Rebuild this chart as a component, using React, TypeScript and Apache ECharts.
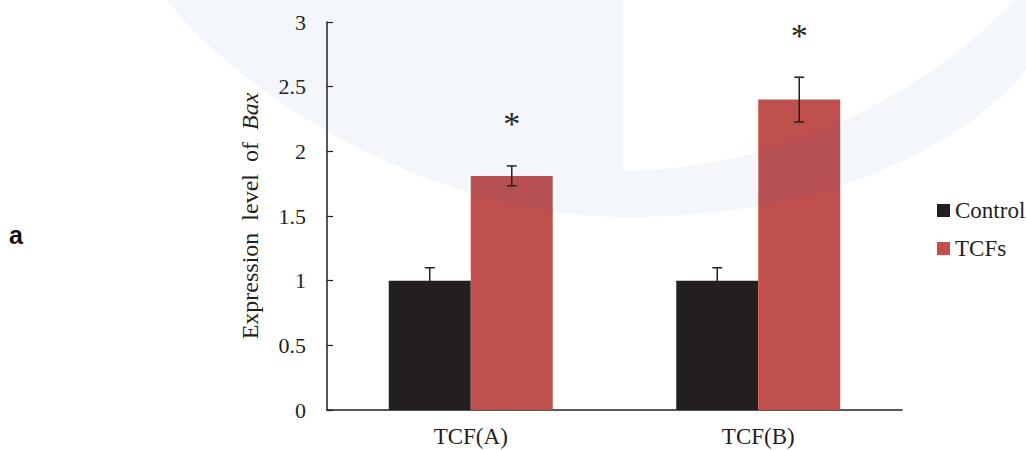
import React, { useEffect, useRef } from "react";
import * as echarts from "echarts";

const categories = ["TCF(A)", "TCF(B)"];
const seriesNames = ["Control", "TCFs"];
const controlValues = [1, 1];
const controlErrors = [0.1, 0.1];
const tcfValues = [1.81, 2.4];
const tcfErrors = [0.077, 0.173];
const sigLabels = ["*", "*"];
const yTicks = { min: 0, max: 3, interval: 0.5 };

const BAR_W = 82;
const DARK = "#231f20";
const RED = "#c0504d";
const FONT = "Liberation Serif";

const WATERMARK_D =
  "M 167 0 C 240 95 430 217 625 217 C 820 217 960 150 1026 70 L 1026 0 L 1015 0 C 900 120 740 172 623 170 L 623 0 Z";

let registered = false;
function ensureShape() {
  if (registered) return;
  echarts.graphic.registerShape("watermark", echarts.graphic.extendPath(WATERMARK_D, {}) as any);
  registered = true;
}

export default function App() {
  const ref = useRef<HTMLDivElement>(null);
  useEffect(() => {
    if (!ref.current) return;
    ensureShape();
    const chart = echarts.init(ref.current, undefined, { renderer: "svg" });

    const errData = (vals: number[], errs: number[]) =>
      vals.map((v, i) => [i, v + errs[i], v - errs[i]]);

    const errSeries = (vals: number[], errs: number[], offset: number) => ({
      type: "custom",
      z: 5,
      silent: true,
      data: errData(vals, errs),
      encode: { x: 0, y: [1, 2] },
      renderItem: (params: any, api: any) => {
        const i = api.value(0);
        const hi = api.coord([i, api.value(1)]);
        const lo = api.coord([i, api.value(2)]);
        const x = hi[0] + offset;
        const style = { stroke: DARK, lineWidth: 1.5 };
        return {
          type: "group",
          children: [
            { type: "line", shape: { x1: x, y1: hi[1], x2: x, y2: lo[1] }, style },
            { type: "line", shape: { x1: x - 5, y1: hi[1], x2: x + 5, y2: hi[1] }, style },
            { type: "line", shape: { x1: x - 5, y1: lo[1], x2: x + 5, y2: lo[1] }, style },
          ],
        };
      },
    });

    const sigData = tcfValues.map((v, i) => [i, v + tcfErrors[i]]);

    chart.setOption({
      animation: false,
      backgroundColor: "#ffffff",
      grid: { left: 327, right: 124, top: 22, bottom: 40, containLabel: false },
      legend: {
        orient: "vertical",
        left: 937,
        top: 199,
        itemWidth: 13,
        itemHeight: 13,
        itemGap: 15,
        icon: "rect",
        padding: 0,
        data: seriesNames,
        textStyle: { fontFamily: FONT, fontSize: 23, color: DARK },
      },
      xAxis: {
        type: "category",
        data: categories,
        axisLine: { lineStyle: { color: DARK, width: 1.5 } },
        axisTick: { show: false },
        axisLabel: { fontFamily: FONT, fontSize: 23, color: DARK, margin: 15 },
      },
      yAxis: {
        type: "value",
        min: yTicks.min,
        max: yTicks.max,
        interval: yTicks.interval,
        splitLine: { show: false },
        axisLine: { show: true, lineStyle: { color: DARK, width: 1.5 } },
        axisTick: { show: true, inside: true, length: 6, lineStyle: { color: DARK, width: 1.2 } },
        axisLabel: { fontFamily: FONT, fontSize: 22, color: DARK, margin: 21 },
        name: "{a|Expression  level  of  }{b|Bax}",
        nameLocation: "middle",
        nameRotate: 90,
        nameGap: 65,
        nameTextStyle: {
          rich: {
            a: { fontFamily: FONT, fontSize: 24, color: DARK },
            b: { fontFamily: FONT, fontSize: 24, color: DARK, fontStyle: "italic" },
          },
        },
      },
      graphic: [
        {
          type: "watermark",
          x: 0,
          y: 0,
          z: 100,
          silent: true,
          style: { fill: "rgba(40,90,180,0.055)" },
        },
        {
          type: "text",
          left: 9,
          top: 222,
          style: { text: "a", font: "bold 25px Liberation Sans", fill: "#111" },
        },
      ],
      series: [
        {
          name: seriesNames[0],
          type: "bar",
          data: controlValues,
          barWidth: BAR_W,
          barGap: "0%",
          itemStyle: { color: DARK },
          z: 2,
        },
        {
          name: seriesNames[1],
          type: "bar",
          data: tcfValues,
          barWidth: BAR_W,
          barGap: "0%",
          itemStyle: { color: RED },
          z: 2,
        },
        errSeries(controlValues, controlErrors, -BAR_W / 2),
        errSeries(tcfValues, tcfErrors, BAR_W / 2),
        {
          type: "custom",
          z: 6,
          silent: true,
          data: sigData,
          encode: { x: 0, y: 1 },
          renderItem: (params: any, api: any) => {
            const i = api.value(0);
            const p = api.coord([i, api.value(1)]);
            return {
              type: "text",
              x: p[0] + BAR_W / 2,
              y: p[1] - 42,
              style: {
                text: sigLabels[params.dataIndex],
                font: `34px ${FONT}`,
                fill: DARK,
                align: "center",
                verticalAlign: "middle",
              },
            };
          },
        },
      ],
    });
    return () => chart.dispose();
  }, []);

  return (
    <div
      ref={ref}
      style={{ position: "absolute", left: 0, top: 0, width: 1026, height: 450 }}
    />
  );
}
